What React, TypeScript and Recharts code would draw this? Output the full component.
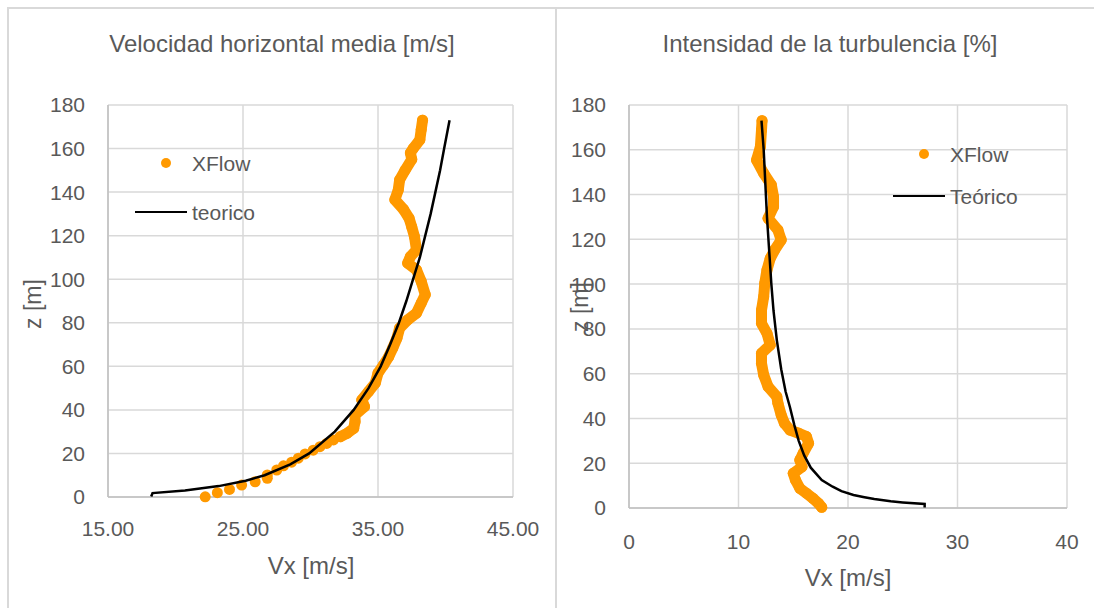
import React from "react"
import { CartesianGrid, Scatter, ScatterChart, XAxis, YAxis } from "recharts"

// Velocidad horizontal media: XFlow samples (Vx, z)
const velXflowVx = [22.2, 23.1, 24.0, 24.9, 25.9, 26.8, 26.8, 27.5, 28.0, 28.6, 29.1, 29.6, 30.2, 30.7, 31.2, 31.7, 32.2, 32.7, 33.2, 33.3, 33.3, 34.0, 33.8, 34.3, 34.8, 35.0, 35.4, 35.8, 36.1, 36.4, 36.6, 37.2, 37.85, 38.2, 38.5, 38.2, 37.85, 37.2, 37.4, 37.85, 37.7, 37.5, 37.3, 36.9, 36.25, 36.5, 36.6, 37.0, 37.5, 37.4, 37.6, 38.1, 38.2, 38.3]
const velXflowZ = [0.1, 2.0, 3.5, 5.5, 7.0, 8.6, 10.1, 12.4, 14.3, 16.0, 17.8, 19.8, 21.5, 23.1, 24.6, 26.2, 27.7, 29.2, 31.5, 34.6, 37.7, 41.5, 44.6, 48.4, 52.3, 56.9, 60.5, 64.5, 68.5, 72.9, 77.5, 81.3, 84.4, 89, 92.9, 99, 104.3, 107.4, 110.4, 113.5, 119.6, 124, 128, 132, 136.5, 141, 145.6, 150, 155, 158, 160, 164, 168.7, 173]

// Velocidad horizontal media: teorico
const velTheoryVx = [18.2, 18.3, 20.7, 23.2, 25.2, 26.6, 28.5, 29.9, 31.8, 33.2, 34.3, 35.2, 35.9, 36.55, 37.1, 37.6, 38.1, 38.5, 38.9, 39.25, 39.6, 39.9, 40.3]
const velTheoryZ = [0.2, 1.8, 3, 5, 7.5, 10, 15, 20, 30, 40, 50, 60, 70, 80, 90, 100, 110, 120, 130, 140, 150, 160, 173]

// Intensidad de la turbulencia: XFlow samples (I, z)
const tiXflowI = [17.6, 17.3, 16.8, 16.2, 15.6, 15.2, 15.0, 15.8, 15.6, 15.9, 16.4, 16.2, 15.5, 14.7, 14.2, 13.9, 13.6, 13.5, 12.7, 12.3, 12.1, 12.1, 12.9, 12.6, 12.1, 12.1, 12.3, 12.4, 12.6, 12.9, 13.3, 13.9, 13.6, 12.7, 13.2, 13.2, 13.0, 12.3, 11.65, 12.0, 12.1, 12.15]
const tiXflowZ = [0.3, 2.1, 4.3, 6.6, 8.8, 12.5, 15.5, 18.4, 21.4, 24.4, 28.9, 31.9, 33.4, 34.8, 37.8, 41.5, 46.8, 49.7, 54.2, 59.4, 64.6, 69.1, 72.8, 78.0, 82.5, 88.4, 94.4, 100.4, 106.3, 111.5, 115.2, 119.7, 124.2, 129.4, 134.6, 139, 144.3, 149.5, 155.4, 161.4, 168.8, 173]

// Intensidad de la turbulencia: Teórico
const tiTheoryI = [27.0, 27.0, 25.0, 23.9, 22.4, 21.5, 20.5, 19.4, 18.6, 17.6, 16.6, 16.0, 15.5, 15.1, 14.7, 14.3, 13.9, 13.5, 13.2, 13.0, 12.8, 12.6, 12.45, 12.3, 12.1]
const tiTheoryZ = [0.2, 1.8, 2.5, 3.0, 4.0, 4.8, 5.8, 7.5, 9.5, 12.5, 18, 23.5, 30, 37, 45, 52, 62, 75, 88, 100, 115, 130, 145, 160, 173]

const velTicks = [15, 25, 35, 45]
const tiTicks = [0, 10, 20, 30, 40]
const zTicks = [0, 20, 40, 60, 80, 100, 120, 140, 160, 180]

const ORANGE = "#ff9900"
const TEXT = "#595959"
const GRID = "#d9d9d9"
const AXIS = "#bfbfbf"
const FONT = "'Liberation Sans', Arial, sans-serif"

const zip = (xs: number[], zs: number[]) => xs.map((x, i) => ({ x, z: zs[i] }))

const velXflow = zip(velXflowVx, velXflowZ)
const velTheory = zip(velTheoryVx, velTheoryZ)
const tiXflow = zip(tiXflowI, tiXflowZ)
const tiTheory = zip(tiTheoryI, tiTheoryZ)

const noShape = () => <g />
const dot = (p: any) => <circle cx={p.cx} cy={p.cy} r={5.5} fill={ORANGE} />

const tickStyle = { fill: TEXT, fontSize: 21, fontFamily: FONT }
const bandLine = { stroke: ORANGE, strokeWidth: 11, strokeLinejoin: "round", strokeLinecap: "round" }

function Label({ x, y, size, children, rotate }: { x: number; y: number; size: number; children: React.ReactNode; rotate?: boolean }) {
    return (
        <div
            style={{
                position: "absolute",
                left: x,
                top: y,
                transform: `translate(-50%, -50%)${rotate ? " rotate(-90deg)" : ""}`,
                fontSize: size,
                lineHeight: 1,
                color: TEXT,
                fontFamily: FONT,
                whiteSpace: "nowrap"
            }}
        >
            {children}
        </div>
    )
}

function LegendRow({ x, y, kind, text }: { x: number; y: number; kind: "dot" | "line"; text: string }) {
    return (
        <>
            {kind === "dot" ? (
                <div style={{ position: "absolute", left: x + 21, top: y - 5, width: 10, height: 10, borderRadius: 5, background: ORANGE }} />
            ) : (
                <div style={{ position: "absolute", left: x - 5, top: y - 1.25, width: 52, height: 2.5, background: "#000" }} />
            )}
            <div
                style={{
                    position: "absolute",
                    left: x + 52,
                    top: y,
                    transform: "translateY(-50%)",
                    fontSize: 21,
                    lineHeight: 1,
                    color: TEXT,
                    fontFamily: FONT,
                    whiteSpace: "nowrap"
                }}
            >
                {text}
            </div>
        </>
    )
}

export default function App() {
    return (
        <div style={{ position: "absolute", left: 0, top: 0, width: 1094, height: 608, overflow: "hidden", background: "#fff" }}>
            <div style={{ position: "absolute", left: 7, top: 7, width: 550, height: 620, border: `2px solid ${GRID}`, boxSizing: "border-box" }} />
            <div style={{ position: "absolute", left: 557, top: 7, width: 600, height: 620, borderTop: `2px solid ${GRID}`, boxSizing: "border-box" }} />

            <div style={{ position: "absolute", left: 0, top: 0 }}>
                <ScatterChart width={556} height={608} margin={{ top: 105, right: 43, bottom: 71, left: 0 }}>
                    <CartesianGrid stroke={GRID} strokeWidth={1.5} />
                    <XAxis
                        type="number"
                        dataKey="x"
                        domain={[15, 45]}
                        ticks={velTicks}
                        interval={0}
                        tickFormatter={(v: number) => v.toFixed(2)}
                        height={40}
                        tickSize={0}
                        tickMargin={24}
                        tick={tickStyle}
                        axisLine={{ stroke: AXIS, strokeWidth: 1.5 }}
                    />
                    <YAxis
                        type="number"
                        dataKey="z"
                        domain={[0, 180]}
                        ticks={zTicks}
                        interval={0}
                        width={108}
                        tickSize={0}
                        tickMargin={23}
                        tick={tickStyle}
                        axisLine={{ stroke: AXIS, strokeWidth: 1.5 }}
                    />
                    <Scatter data={velXflow.filter(p => p.z >= 27)} shape={noShape} line={bandLine} isAnimationActive={false} />
                    <Scatter data={velXflow} shape={dot} isAnimationActive={false} />
                    <Scatter data={velTheory} shape={noShape} line={{ stroke: "#000", strokeWidth: 2.5 }} isAnimationActive={false} />
                </ScatterChart>
            </div>

            <div style={{ position: "absolute", left: 556, top: 0 }}>
                <ScatterChart width={538} height={608} margin={{ top: 105, right: 27, bottom: 60, left: 0 }}>
                    <CartesianGrid stroke={GRID} strokeWidth={1.5} />
                    <XAxis
                        type="number"
                        dataKey="x"
                        domain={[0, 40]}
                        ticks={tiTicks}
                        interval={0}
                        height={40}
                        tickSize={0}
                        tickMargin={26}
                        tick={tickStyle}
                        axisLine={{ stroke: AXIS, strokeWidth: 1.5 }}
                    />
                    <YAxis
                        type="number"
                        dataKey="z"
                        domain={[0, 180]}
                        ticks={zTicks}
                        interval={0}
                        width={73}
                        tickSize={0}
                        tickMargin={23}
                        tick={tickStyle}
                        axisLine={{ stroke: AXIS, strokeWidth: 1.5 }}
                    />
                    <Scatter data={tiXflow} shape={noShape} line={bandLine} isAnimationActive={false} />
                    <Scatter data={tiXflow} shape={dot} isAnimationActive={false} />
                    <Scatter data={tiTheory} shape={noShape} line={{ stroke: "#000", strokeWidth: 2.5 }} isAnimationActive={false} />
                </ScatterChart>
            </div>

            <Label x={282} y={44} size={24}>Velocidad horizontal media [m/s]</Label>
            <Label x={830} y={44} size={24}>Intensidad de la turbulencia [%]</Label>
            <Label x={311} y={566} size={24}>Vx [m/s]</Label>
            <Label x={848} y={578} size={24}>Vx [m/s]</Label>
            <Label x={33} y={304} size={23} rotate>z [m]</Label>
            <Label x={580} y={307} size={23} rotate>z [m]</Label>

            <LegendRow x={140} y={163} kind="dot" text="XFlow" />
            <LegendRow x={140} y={212} kind="line" text="teorico" />
            <LegendRow x={898} y={154} kind="dot" text="XFlow" />
            <LegendRow x={898} y={196} kind="line" text="Teórico" />
        </div>
    )
}
